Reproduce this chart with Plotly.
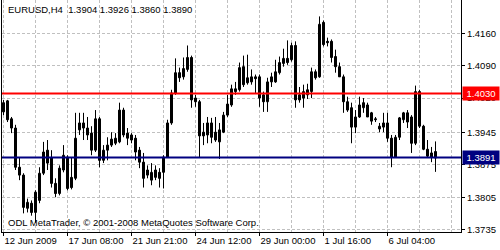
import plotly.graph_objects as go

opens = [
1.3990, 1.4014, 1.3975, 1.3955, 1.3870, 1.3853, 1.3781, 1.3792, 1.3772, 1.3798,
1.3857, 1.3907, 1.3890, 1.3835, 1.3813, 1.3864, 1.3892, 1.3848, 1.3846, 1.3951,
1.3966, 1.3955, 1.3944, 1.3907, 1.3975, 1.3885, 1.3907, 1.3918, 1.3922, 1.3925,
1.3994, 1.3944, 1.3940, 1.3933, 1.3907, 1.3881, 1.3864, 1.3842, 1.3848, 1.3859,
1.3859, 1.3892, 1.3966, 1.4031, 1.4075, 1.4066, 1.4082, 1.4108, 1.4020, 1.4012,
1.3946, 1.3940, 1.3966, 1.3946, 1.3925, 1.3946, 1.3983, 1.4005, 1.4040, 1.4038,
1.4088, 1.4053, 1.4055, 1.4066, 1.4066, 1.4027, 1.4012, 1.4055, 1.4055, 1.4075,
1.4095, 1.4106, 1.4103, 1.4134, 1.4027, 1.4020, 1.4027, 1.4034, 1.4077, 1.4066,
1.4184, 1.4143, 1.4143, 1.4110, 1.4088, 1.4066, 1.4012, 1.3999, 1.3957, 1.3979,
1.3999, 1.4005, 1.3988, 1.3975, 1.3953, 1.3957, 1.3966, 1.3933, 1.3892, 1.3935,
1.3973, 1.3988, 1.3979, 1.3922, 1.4034, 1.3959, 1.3909, 1.3892, 1.3904]

highs = [
1.4016, 1.4016, 1.3979, 1.3962, 1.3892, 1.3857, 1.3802, 1.3798, 1.3820, 1.3870,
1.3925, 1.3929, 1.3907, 1.3846, 1.3874, 1.3918, 1.3896, 1.3892, 1.3988, 1.3988,
1.3988, 1.3979, 1.3959, 1.3994, 1.3979, 1.3918, 1.3935, 1.3946, 1.3944, 1.4010,
1.3999, 1.3955, 1.3944, 1.3940, 1.3914, 1.3901, 1.3874, 1.3879, 1.3874, 1.3868,
1.3896, 1.3973, 1.4038, 1.4106, 1.4086, 1.4108, 1.4134, 1.4112, 1.4027, 1.4016,
1.3966, 1.3979, 1.3977, 1.3979, 1.3966, 1.3990, 1.4027, 1.4049, 1.4055, 1.4097,
1.4112, 1.4114, 1.4082, 1.4071, 1.4071, 1.4034, 1.4064, 1.4075, 1.4103, 1.4110,
1.4127, 1.4145, 1.4140, 1.4143, 1.4044, 1.4049, 1.4051, 1.4086, 1.4082, 1.4197,
1.4188, 1.4151, 1.4147, 1.4125, 1.4097, 1.4071, 1.4023, 1.4010, 1.3994, 1.4023,
1.4020, 1.4010, 1.3990, 1.3979, 1.3966, 1.3988, 1.3988, 1.3940, 1.3940, 1.3979,
1.3990, 1.3994, 1.3983, 1.4047, 1.4038, 1.3962, 1.3929, 1.3914, 1.3926]

lows = [
1.3983, 1.3968, 1.3944, 1.3864, 1.3842, 1.3770, 1.3772, 1.3765, 1.3750, 1.3792,
1.3853, 1.3864, 1.3826, 1.3805, 1.3809, 1.3859, 1.3820, 1.3822, 1.3842, 1.3940,
1.3929, 1.3929, 1.3896, 1.3903, 1.3870, 1.3879, 1.3885, 1.3914, 1.3918, 1.3922,
1.3935, 1.3918, 1.3922, 1.3885, 1.3868, 1.3826, 1.3846, 1.3831, 1.3842, 1.3826,
1.3824, 1.3890, 1.3962, 1.4027, 1.4055, 1.4060, 1.4077, 1.3999, 1.4001, 1.3890,
1.3918, 1.3922, 1.3922, 1.3925, 1.3888, 1.3944, 1.3979, 1.4001, 1.4027, 1.4034,
1.4044, 1.4049, 1.4049, 1.4031, 1.4001, 1.3990, 1.3990, 1.4044, 1.4053, 1.4071,
1.4088, 1.4092, 1.4099, 1.3999, 1.4010, 1.3999, 1.4018, 1.4020, 1.4060, 1.4064,
1.4132, 1.4132, 1.4097, 1.4075, 1.4066, 1.3988, 1.3990, 1.3922, 1.3944, 1.3977,
1.3988, 1.3979, 1.3962, 1.3968, 1.3946, 1.3946, 1.3925, 1.3870, 1.3890, 1.3929,
1.3966, 1.3955, 1.3901, 1.3918, 1.3955, 1.3907, 1.3890, 1.3881, 1.3860]

closes = [
1.4010, 1.3973, 1.3955, 1.3870, 1.3853, 1.3783, 1.3794, 1.3772, 1.3816, 1.3857,
1.3903, 1.3879, 1.3835, 1.3813, 1.3868, 1.3896, 1.3824, 1.3826, 1.3933, 1.3966,
1.3955, 1.3940, 1.3907, 1.3975, 1.3885, 1.3907, 1.3918, 1.3931, 1.3933, 1.3994,
1.3940, 1.3933, 1.3929, 1.3903, 1.3881, 1.3846, 1.3853, 1.3859, 1.3864, 1.3846,
1.3892, 1.3966, 1.4031, 1.4075, 1.4064, 1.4084, 1.4108, 1.4016, 1.4012, 1.3938,
1.3938, 1.3966, 1.3935, 1.3929, 1.3951, 1.3983, 1.4007, 1.4040, 1.4034, 1.4086,
1.4049, 1.4064, 1.4066, 1.4062, 1.4020, 1.4012, 1.4055, 1.4066, 1.4077, 1.4097,
1.4106, 1.4097, 1.4134, 1.4016, 1.4016, 1.4034, 1.4038, 1.4077, 1.4064, 1.4180,
1.4136, 1.4140, 1.4108, 1.4088, 1.4066, 1.4012, 1.3994, 1.3957, 1.3979, 1.4005,
1.4010, 1.3979, 1.3970, 1.3973, 1.3959, 1.3966, 1.3933, 1.3892, 1.3935, 1.3977,
1.3988, 1.3968, 1.3922, 1.4034, 1.3959, 1.3909, 1.3894, 1.3901, 1.3890]

time_labels = ["12 Jun 2009", "17 Jun 08:00", "21 Jun 21:00", "24 Jun 12:00",
               "29 Jun 00:00", "1 Jul 16:00", "6 Jul 04:00"]
label_bars = [0, 16, 32, 48, 64, 80, 96]
grid_bars = list(range(0, 113, 8))

price_ticks = [1.4160, 1.4090, 1.4020, 1.3945, 1.3875, 1.3805, 1.3735]
price_labels = ["1.4160", "1.4090", "1.4020", "1.3945", "1.3875", "1.3805", "1.3735"]

resistance = 1.4030
support = 1.3891
header = "EURUSD,H4\u00a0 1.3904 1.3926 1.3860 1.3890"
footer = "ODL MetaTrader, \u00a9 2001-2008 MetaQuotes Software Corp."

FONT = "Liberation Sans"
n = len(opens)
idx = list(range(n))

# wicks
wx, wy = [], []
for i in idx:
    wx += [i, i, None]
    wy += [lows[i], highs[i], None]

bull_x, bull_b, bull_h = [], [], []
bear_x, bear_b, bear_h = [], [], []
for i in idx:
    o, c = opens[i], closes[i]
    h = max(abs(c - o), 0.00002)
    if c >= o:
        bull_x.append(i); bull_b.append(min(o, c)); bull_h.append(h)
    else:
        bear_x.append(i); bear_b.append(min(o, c)); bear_h.append(h)

fig = go.Figure()
fig.add_trace(go.Scatter(x=wx, y=wy, mode="lines",
                         line=dict(color="black", width=1), hoverinfo="skip"))
fig.add_trace(go.Bar(x=bull_x, y=bull_h, base=bull_b, width=0.5,
                     marker=dict(color="white", line=dict(color="black", width=1))))
fig.add_trace(go.Bar(x=bear_x, y=bear_h, base=bear_b, width=0.5,
                     marker=dict(color="black", line=dict(color="black", width=1))))

grid = dict(gridcolor="#c0c0c0", griddash="3px,2px", gridwidth=1)

fig.update_layout(
    width=500, height=250, autosize=False,
    margin=dict(l=2, r=39, t=0, b=18, pad=0),
    paper_bgcolor="white", plot_bgcolor="white",
    showlegend=False, barmode="overlay",
    font=dict(family=FONT, size=9.5, color="black"),
    xaxis=dict(range=[-0.375, 114.375], tickvals=label_bars, ticktext=time_labels,
               ticks="outside", ticklen=3, tickcolor="black",
               ticklabelposition="outside right",
               showgrid=False, zeroline=False,
               showline=True, linecolor="black", linewidth=1,
               minor=dict(tickvals=grid_bars, showgrid=True, ticks="", **grid),
               fixedrange=True),
    yaxis=dict(range=[1.37296, 1.42326], side="right", tickvals=price_ticks,
               ticktext=price_labels, ticks="outside", ticklen=3, tickcolor="black",
               showgrid=True, zeroline=False, showline=True, linecolor="black",
               linewidth=1, mirror=True, fixedrange=True, **grid),
    shapes=[
        dict(type="line", xref="paper", x0=0, x1=1, yref="y", y0=resistance, y1=resistance,
             line=dict(color="#ff0000", width=2), layer="above"),
        dict(type="line", xref="paper", x0=0, x1=1, yref="y", y0=support, y1=support,
             line=dict(color="#000080", width=2), layer="above"),
    ],
    annotations=[
        dict(text=header, xref="paper", yref="paper", x=0, y=1, xanchor="left",
             yanchor="top", xshift=4, yshift=-2, showarrow=False,
             font=dict(family=FONT, size=9.5, color="black")),
        dict(text=footer, xref="paper", yref="paper", x=0, y=0, xanchor="left",
             yanchor="bottom", xshift=4, yshift=2, showarrow=False,
             font=dict(family=FONT, size=9.5, color="black")),
        dict(text=f"{resistance:.4f}", xref="paper", yref="y", x=1, y=resistance,
             xanchor="left", yanchor="middle", xshift=1, showarrow=False,
             bgcolor="#ff0000", font=dict(family=FONT, size=9.5, color="white"),
             width=34, height=11, borderpad=1),
        dict(text=f"{support:.4f}", xref="paper", yref="y", x=1, y=support,
             xanchor="left", yanchor="middle", xshift=1, showarrow=False,
             bgcolor="#000080", font=dict(family=FONT, size=9.5, color="white"),
             width=34, height=11, borderpad=1),
    ],
)

fig.write_html("out.html", config={"displayModeBar": False})
